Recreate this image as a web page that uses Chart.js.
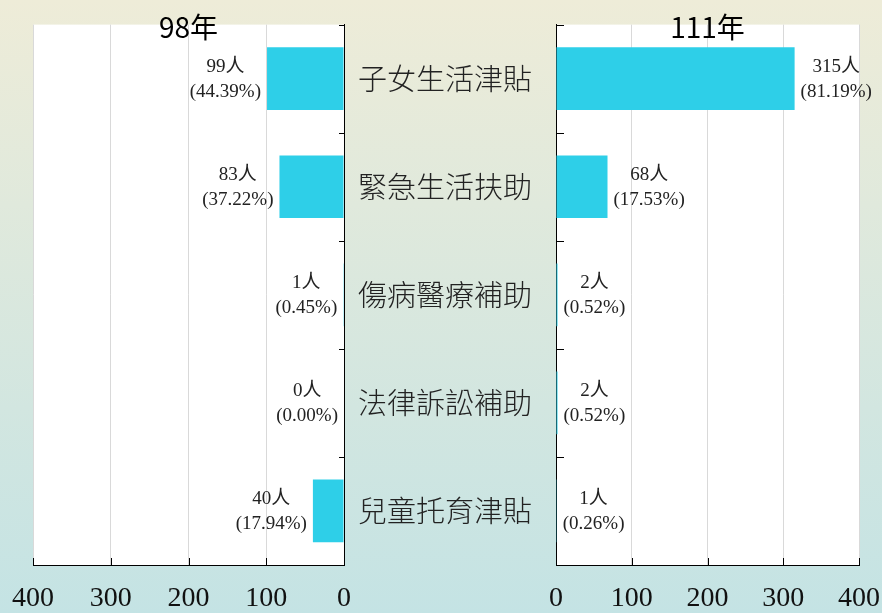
<!DOCTYPE html>
<html lang="zh-Hant">
<head>
<meta charset="utf-8">
<title>98年與111年補助人數</title>
<script src="https://cdn.jsdelivr.net/npm/chart.js@4.4.1/dist/chart.umd.min.js"></script>
<style>
  html, body { margin: 0; padding: 0; }
  body {
    width: 882px; height: 613px; overflow: hidden; position: relative;
    background: linear-gradient(to bottom, #eeecd8 0%, #c4e3e4 100%);
  }
  #left-wrap { position: absolute; left: 0; top: 0; width: 556px; height: 613px; }
  #right-wrap { position: absolute; left: 544px; top: 0; width: 338px; height: 613px; }
</style>
</head>
<body>
<div id="left-wrap"><canvas id="chart-98"></canvas></div>
<div id="right-wrap"><canvas id="chart-111"></canvas></div>
<script>
const categories = ['子女生活津貼', '緊急生活扶助', '傷病醫療補助', '法律訴訟補助', '兒童托育津貼'];
const counts98 = [99, 83, 1, 0, 40];
const percents98 = ['44.39', '37.22', '0.45', '0.00', '17.94'];
const counts111 = [315, 68, 2, 2, 1];
const percents111 = ['81.19', '17.53', '0.52', '0.52', '0.26'];
const axisTicks = [0, 100, 200, 300, 400];

const SERIF = '"Liberation Serif", "Noto Sans CJK TC", serif';
const SANS = '"Noto Sans CJK TC", sans-serif';

// white plot area over the gradient page
const plotBackground = {
    id: 'plotBackground',
    beforeDraw(chart) {
        const { ctx, chartArea: a } = chart;
        ctx.save();
        ctx.fillStyle = '#ffffff';
        ctx.fillRect(a.left, a.top, a.right - a.left, a.bottom - a.top);
        ctx.restore();
    }
};

// short tick marks pointing into the plot
const innerTicks = {
    id: 'innerTicks',
    afterDatasetsDraw(chart, args, opts) {
        const { ctx, chartArea: a, scales: { x, y } } = chart;
        ctx.save();
        ctx.strokeStyle = '#000';
        ctx.lineWidth = 1;
        ctx.beginPath();
        x.ticks.forEach(t => {
            const px = Math.round(x.getPixelForValue(t.value)) + 0.5;
            ctx.moveTo(px, a.bottom);
            ctx.lineTo(px, a.bottom - 7);
        });
        const edge = opts.side === 'left' ? a.right : a.left;
        const len = opts.side === 'left' ? -5 : 8;
        for (let i = 0; i <= categories.length; i++) {
            const py = Math.round(y.getPixelForValue(i - 0.5)) + 0.5;
            ctx.moveTo(edge, py);
            ctx.lineTo(edge + len, py);
        }
        ctx.stroke();
        ctx.restore();
    }
};

// "99人 / (44.39%)" next to each bar end
const barLabels = {
    id: 'barLabels',
    afterDatasetsDraw(chart, args, opts) {
        const { ctx } = chart;
        const meta = chart.getDatasetMeta(0);
        ctx.save();
        ctx.font = '19px ' + SERIF;
        ctx.fillStyle = '#222';
        ctx.textAlign = 'center';
        ctx.textBaseline = 'middle';
        meta.data.forEach((bar, i) => {
            const line1 = opts.counts[i] + '人';
            const line2 = '(' + opts.percents[i] + '%)';
            const w = Math.max(ctx.measureText(line1).width, ctx.measureText(line2).width);
            const cx = opts.side === 'left' ? bar.x - 6 - w / 2 : bar.x + 6 + w / 2;
            ctx.fillText(line1, cx, bar.y - 12);
            ctx.fillText(line2, cx, bar.y + 13);
        });
        ctx.restore();
    }
};

const makeChart = (canvasId, title, counts, percents, side) => {
    const mirrored = side === 'left';
    new Chart(document.getElementById(canvasId), {
        type: 'bar',
        data: {
            labels: categories,
            datasets: [{
                data: counts,
                backgroundColor: '#2ecfe8',
                borderWidth: 0,
                barPercentage: 0.58,
                categoryPercentage: 1
            }]
        },
        options: {
            indexAxis: 'y',
            responsive: true,
            maintainAspectRatio: false,
            animation: false,
            layout: { padding: mirrored ? { left: 33, right: 12 } : { left: 12, right: 23 } },
            scales: {
                x: {
                    reverse: mirrored,
                    min: 0,
                    max: 400,
                    afterBuildTicks: s => { s.ticks = axisTicks.map(v => ({ value: v })); },
                    afterFit: s => { s.height = 48; },
                    grid: { color: '#d9d9d9', drawTicks: true, tickLength: 17, tickColor: 'transparent' },
                    border: { color: '#000', width: 1 },
                    ticks: { padding: 0, color: '#111', font: { family: SERIF, size: 28 } }
                },
                y: {
                    position: mirrored ? 'right' : 'left',
                    afterFit: s => { s.width = mirrored ? 200 : 0; },
                    grid: { drawOnChartArea: false, drawTicks: true, tickLength: 14, tickColor: 'transparent' },
                    border: { color: '#000', width: 1 },
                    ticks: mirrored
                        ? { padding: 0, crossAlign: 'center', color: '#222', font: { family: SANS, size: 29, weight: '300' } }
                        : { display: false }
                }
            },
            plugins: {
                legend: { display: false },
                tooltip: { enabled: false },
                title: {
                    display: true,
                    text: title,
                    fullSize: false,
                    color: '#000',
                    font: { family: SANS, size: 28, weight: 'normal' },
                    padding: { top: 11, bottom: -20 }
                },
                barLabels: { counts, percents, side },
                innerTicks: { side }
            }
        },
        plugins: [plotBackground, barLabels, innerTicks]
    });
};

document.addEventListener('DOMContentLoaded', () => {
    makeChart('chart-98', '98年', counts98, percents98, 'left');
    makeChart('chart-111', '111年', counts111, percents111, 'right');
});
</script>
</body>
</html>
